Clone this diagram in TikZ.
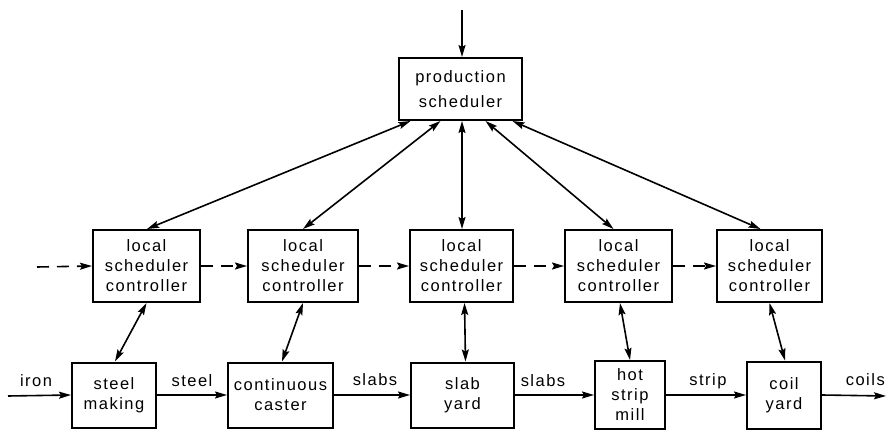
\documentclass[tikz,border=0pt]{standalone}
\usepackage{fontspec}
\setmainfont{Liberation Sans}[LetterSpace=9]
\usetikzlibrary{arrows.meta}
\begin{document}
\begin{tikzpicture}[x=1pt,y=-1pt,
  box/.style={draw,line width=2pt,align=center,inner sep=0pt,font=\fontsize{16.5}{20}\selectfont},
  lbl/.style={font=\fontsize{16.5}{20}\selectfont,inner sep=0pt},
  tip/.style={-{Stealth[length=12pt,width=7pt,inset=2pt]}},
  dtip/.style={{Stealth[length=12pt,width=7pt,inset=2pt]}-{Stealth[length=12pt,width=7pt,inset=2pt]}},
  conn/.style={line width=1.6pt}]
\useasboundingbox (0,0) rectangle (886,430);
\node[box,minimum width=123pt,minimum height=62pt,font=\fontsize{16.5}{25}\selectfont] (ps) at (460.5,89) {production\\scheduler};
\node[box,minimum width=107pt,minimum height=72pt] (c1) at (146.5,266) {local\\scheduler\\controller};
\node[box,minimum width=110pt,minimum height=72pt] (c2) at (303,266) {local\\scheduler\\controller};
\node[box,minimum width=103pt,minimum height=72pt] (c3) at (461.5,266) {local\\scheduler\\controller};
\node[box,minimum width=107pt,minimum height=72pt] (c4) at (618.5,266) {local\\scheduler\\controller};
\node[box,minimum width=105pt,minimum height=72pt] (c5) at (769.5,266) {local\\scheduler\\controller};
\node[box,minimum width=84pt,minimum height=65pt] (p1) at (114,395) {steel\\making};
\node[box,minimum width=105pt,minimum height=65pt] (p2) at (280.5,395) {continuous\\caster};
\node[box,minimum width=103pt,minimum height=65pt] (p3) at (462.5,395) {slab\\yard};
\node[box,minimum width=70pt,minimum height=68pt] (p4) at (630,395) {hot\\strip\\mill};
\node[box,minimum width=74pt,minimum height=67pt] (p5) at (784,395) {coil\\yard};
\coordinate (top) at (462,10);
\coordinate (in) at (8,396);
\coordinate (out) at (886,396);
\coordinate (din) at (37,267);
\draw[conn,tip] (top) -- (ps.north -| top);
\draw[conn,dtip] ([xshift=-50pt]ps.south) -- ([xshift=0.5pt]c1.north);
\draw[conn,dtip] ([xshift=-20pt]ps.south) -- (c2.north);
\draw[conn,dtip] ([xshift=1.5pt]ps.south) -- (c3.north -| top);
\draw[conn,dtip] ([xshift=25pt]ps.south) -- ([xshift=-5pt]c4.north);
\draw[conn,dtip] ([xshift=52pt]ps.south) -- ([xshift=-9pt]c5.north);
\draw[conn,dtip] (c1.south) -- ([xshift=1pt]p1.north);
\draw[conn,dtip] (c2.south) -- ([xshift=1.5pt]p2.north);
\draw[conn,dtip] ([xshift=3pt]c3.south) -- ([xshift=3pt]p3.north);
\draw[conn,dtip] ([xshift=1.5pt]c4.south) -- (p4.north);
\draw[conn,dtip] (c5.south) -- ([xshift=1pt]p5.north);
\draw[conn,tip,dash pattern=on 12pt off 8pt] (din) -- (c1.west);
\draw[conn,tip,dash pattern=on 12pt off 8pt] (c1.east) -- (c2.west);
\draw[conn,tip,dash pattern=on 12pt off 8pt] (c2.east) -- (c3.west);
\draw[conn,tip,dash pattern=on 12pt off 8pt] (c3.east) -- (c4.west);
\draw[conn,tip,dash pattern=on 12pt off 8pt] (c4.east) -- (c5.west);
\draw[conn,tip] (in) -- (p1.west);
\draw[conn,tip] (p1.east) -- (p2.west);
\draw[conn,tip] (p2.east) -- (p3.west);
\draw[conn,tip] (p3.east) -- (p4.west);
\draw[conn,tip] (p4.east) -- (p5.west);
\draw[conn,tip] (p5.east) -- (out);
\node[lbl] (l1) at (36,381) {iron};
\node[lbl] (l2) at (192,381) {steel};
\node[lbl] (l3) at (375,380) {slabs};
\node[lbl] (l4) at (543,381) {slabs};
\node[lbl] (l5) at (708,381) {strip};
\node[lbl,anchor=east] (l6) at (885,380) {coils};
\end{tikzpicture}
\end{document}
